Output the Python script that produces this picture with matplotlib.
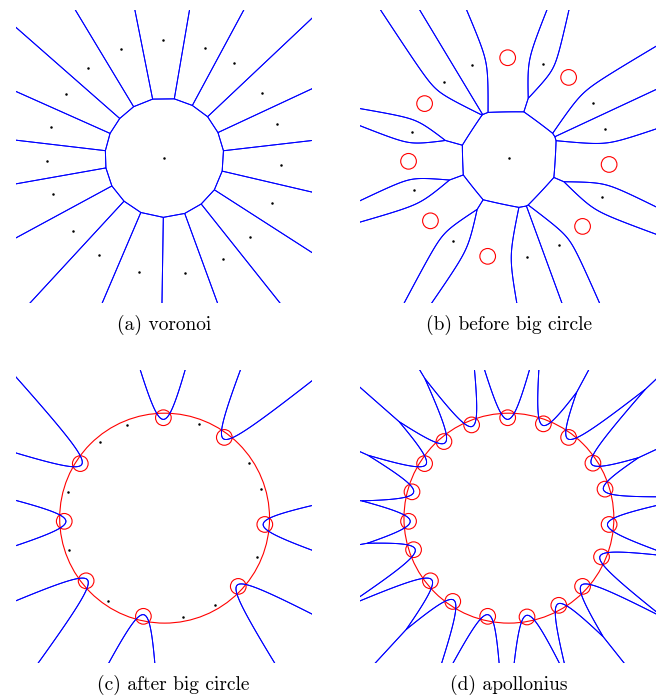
import numpy as np
import matplotlib
matplotlib.use("Agg")
import matplotlib.pyplot as plt
from matplotlib.patches import Circle

# angles (deg) of the 19 sites on the ring
ring_angles = [90.7, 69.9, 53.5, 33.2, 16.8, -3.6, -22.7, -42.8, -60.2, -79.6,
               -102.2, -124.0, -141.4, -161.7, -178.2, 164.8, 147.1, 130.3, 111.8]
ring_radius = 1.0
small_r = 0.078      # radius of the red site circles
big_r = 1.045        # radius of the big circle
circles_b = [0, 2, 5, 7, 10, 12, 14, 16]   # ring sites that are circles in (b) and (c)

captions = ["(a) voronoi", "(b) before big circle", "(c) after big circle", "(d) apollonius"]

BLUE = "#0000ff"
RED = "#ff0000"

ang = np.radians(ring_angles)
ring_x = ring_radius * np.cos(ang)
ring_y = ring_radius * np.sin(ang)


def draw_edges(ax, sites, xlim, ylim, n=1100):
    # additively weighted voronoi: dist = |x - p| - w, boundaries via contour
    xs = np.linspace(xlim[0] - 0.03, xlim[1] + 0.03, n)
    ys = np.linspace(ylim[0] - 0.03, ylim[1] + 0.03, n)
    X, Y = np.meshgrid(xs, ys)
    m1 = np.full(X.shape, np.inf)
    m2 = np.full(X.shape, np.inf)
    lab = np.zeros(X.shape, dtype=int)
    for k, (sx, sy, w) in enumerate(sites):
        d = np.hypot(X - sx, Y - sy) - w
        better = d < m1
        m2 = np.where(better, m1, np.minimum(m2, d))
        lab = np.where(better, k, lab)
        m1 = np.where(better, d, m1)
    for k, (sx, sy, w) in enumerate(sites):
        own = lab == k
        if not own.any():
            continue
        d = np.hypot(X - sx, Y - sy) - w
        f = d - np.where(own, m2, m1)
        ax.contour(X, Y, f, levels=[0], colors=BLUE, linewidths=0.7)


def add_ax(x0, y0, x1, y1):
    return fig.add_axes([x0 / 662, 1 - y1 / 696, (x1 - x0) / 662, (y1 - y0) / 696])


fig = plt.figure(figsize=(6.62, 6.96), dpi=100)

lim_a = ((-1.264, 1.257), (-1.243, 1.259))
lim_b = ((-1.48, 1.465), (-1.445, 1.475))

axes = [add_ax(16, 10, 311.7, 303.3), add_ax(360.3, 10, 656, 303.3),
        add_ax(16, 370, 311.7, 663.3), add_ax(360.3, 370, 656, 663.3)]

for i, ax in enumerate(axes):
    xl, yl = lim_a if i == 0 else lim_b
    dots = []
    circs = []
    sites = []
    if i < 2:
        sites.append((0.0, 0.0, 0.0))
        dots.append((0.0, 0.0))
    for k in range(len(ring_angles)):
        if i == 0 or (i in (1, 2) and k not in circles_b):
            sites.append((ring_x[k], ring_y[k], 0.0))
            dots.append((ring_x[k], ring_y[k]))
        else:
            sites.append((ring_x[k], ring_y[k], small_r))
            circs.append((ring_x[k], ring_y[k]))
    if i >= 2:
        sites.append((0.0, 0.0, big_r))

    draw_edges(ax, sites, xl, yl)

    for cx, cy in circs:
        ax.add_patch(Circle((cx, cy), small_r, fill=False, edgecolor=RED, linewidth=0.8))
    if i >= 2:
        ax.add_patch(Circle((0, 0), big_r, fill=False, edgecolor=RED, linewidth=0.8))
    if dots:
        dx, dy = zip(*dots)
        ax.plot(dx, dy, "o", color="black", markersize=1.8, markeredgewidth=0)

    ax.set_xlim(xl)
    ax.set_ylim(yl)
    ax.axis("off")

cap_pos = [(164, 325), (509, 325), (173, 685), (508.5, 685)]
for (cx, cy), txt in zip(cap_pos, captions):
    fig.text(cx / 662, 1 - cy / 696, txt, ha="center", va="center",
             fontfamily="cmr10", fontsize=14)

fig.savefig("out.png", dpi=100)
